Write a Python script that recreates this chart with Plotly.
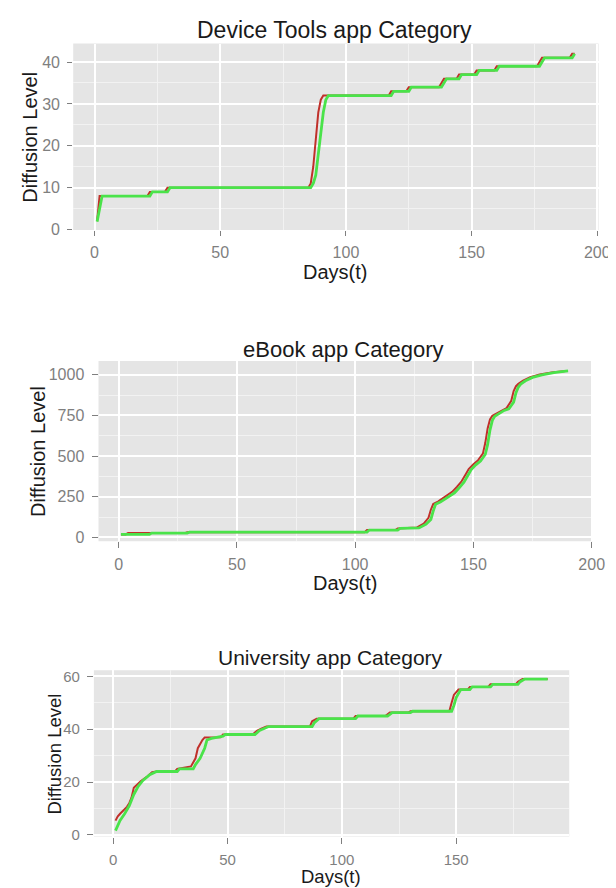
import plotly.graph_objects as go

# ---------------- data ----------------
# Panel 1: Device Tools app Category
dev_days_actual = [1, 2, 21, 22, 28, 29, 85, 86, 87, 88, 89, 90, 91, 117, 118, 124, 125, 137, 138, 139,
                   144, 145, 151, 152, 159, 160, 176, 177, 178, 189, 190, 191]
dev_level_actual = [2, 8, 8, 9, 9, 10, 10, 11, 15, 22, 28, 31, 32, 32, 33, 33, 34, 34, 35, 36,
                    36, 37, 37, 38, 38, 39, 39, 40, 41, 41, 42, 42]
dev_days_fit = [1, 2, 3, 22, 23, 29, 30, 86, 87, 88, 89, 90, 91, 92, 93, 118, 119, 125, 126, 138, 139, 140,
                145, 146, 152, 153, 160, 161, 177, 178, 179, 190, 191]
dev_level_fit = [1.9, 5, 8, 8, 9, 9, 10, 10, 11, 13, 18, 24, 28, 31, 32, 32, 33, 33, 34, 34, 35, 36,
                 36, 37, 37, 38, 38, 39, 39, 40, 41, 41, 42]

# Panel 2: eBook app Category
ebook_days_actual = [1, 3, 4, 28, 29, 104, 105, 117, 118, 126, 129, 131, 132, 133, 135, 138, 141, 143,
                     145, 147, 148, 150, 152, 154, 155, 156, 157, 158, 160, 162, 164, 166, 167, 168, 169,
                     171, 174, 178, 183, 189, 190]
ebook_level_actual = [18, 18, 26, 26, 32, 32, 45, 45, 55, 60, 85, 120, 170, 205, 220, 248, 280, 310,
                      345, 395, 420, 450, 475, 515, 580, 670, 725, 748, 763, 783, 795, 840, 900, 930, 945,
                      965, 986, 1002, 1015, 1024, 1024]
ebook_days_fit = [1, 13, 14, 29, 30, 105, 106, 118, 119, 127, 130, 132, 133, 134, 136, 139, 142, 144, 146, 148,
                  149, 151, 153, 155, 156, 157, 158, 159, 161, 163, 165, 167, 168, 169, 170, 172, 175,
                  179, 184, 190]
ebook_level_fit = [18, 18, 26, 26, 32, 32, 45, 45, 55, 58, 81, 110, 162, 203, 217, 243, 274, 305, 340, 390,
                   416, 446, 470, 510, 570, 660, 720, 745, 761, 781, 791, 832, 890, 925, 943, 963, 984,
                   1000, 1014, 1024]

# Panel 3: University app Category
uni_days_actual = [1, 2, 3, 5, 6, 7, 8, 9, 12, 15, 17, 19, 27, 28, 34, 36, 37, 39, 40, 47, 48, 61, 63, 65, 67,
                   86, 87, 89, 105, 106, 119, 121, 129, 130, 147, 148, 149, 151, 155, 156, 164, 165, 176,
                   177, 179, 190]
uni_level_actual = [5.4, 7, 8, 9.5, 10.6, 12, 14.1, 17.8, 20.3, 22.2, 23.7, 24, 24, 25, 25.9, 29, 32.8, 35.9,
                    36.9, 37, 38, 38, 39.5, 40.3, 41, 41, 43, 44, 44, 45, 45, 46.3, 46.3, 46.8, 46.8, 50,
                    53, 55, 55, 56, 56, 57, 57, 58, 59, 59]
uni_days_fit = [1, 3, 5, 7, 9, 11, 13, 16, 19, 28, 29, 35, 36, 38, 40, 41, 43, 48, 49, 62, 64, 66, 68, 87, 88,
                90, 106, 107, 120, 122, 130, 131, 148, 149, 150, 152, 156, 157, 165, 166, 177, 178, 180, 190]
uni_level_fit = [1.6, 5.5, 8, 11, 15.3, 18.5, 20.6, 22.8, 24, 24, 25, 25, 26.6, 29, 32.8, 35.9, 36.5, 37.4,
                 38, 38, 39.5, 40.3, 41, 41, 42.5, 44, 44, 45, 45, 46.3, 46.3, 46.8, 46.8, 49, 52, 55, 55,
                 56, 56, 57, 57, 58, 59, 59]

titles = ["Device Tools app Category", "eBook app Category", "University app Category"]
x_ticks = [0, 50, 100, 150, 200]
y_ticks = [[0, 10, 20, 30, 40], [0, 250, 500, 750, 1000], [0, 20, 40, 60]]

# ---------------- layout geometry (pixels) ----------------
W, H = 616, 888
FONT = "Liberation Sans, Arial, sans-serif"
RED = "#C0302A"
GREEN = "#4AE34A"
BG = "#E5E5E5"
MINOR = "#F2F2F2"
GREY = "#7F7F7F"

panels = [
    dict(days_a=dev_days_actual, lev_a=dev_level_actual, days_f=dev_days_fit, lev_f=dev_level_fit,
         px=(66.5, 602.3), py=(34, 222.5), xr=[-8.5, 200.5], yr=[-0.1, 44.4], ydt=10, ytl=y_ticks[0],
         tsize=23, tpos=(333, 20), asize=20, ylab=(21.6, 129), xlab=(333, 265), ticksize=16, ticklen=5),
    dict(days_a=ebook_days_actual, lev_a=ebook_level_actual, days_f=ebook_days_fit, lev_f=ebook_level_fit,
         px=(92.3, 596.5), py=(355, 537.3), xr=[-8.5, 200.5], yr=[-24, 1085], ydt=250, ytl=y_ticks[1],
         tsize=22, tpos=(342, 343), asize=20, ylab=(30.6, 447), xlab=(344, 580), ticksize=16, ticklen=6),
    dict(days_a=uni_days_actual, lev_a=uni_level_actual, days_f=uni_days_fit, lev_f=uni_level_fit,
         px=(87.6, 572.4), py=(667.7, 836), xr=[-8.45, 199.45], yr=[-0.65, 62.35], ydt=20, ytl=y_ticks[2],
         tsize=21, tpos=(329, 655), asize=18.5, ylab=(46.5, 752.5), xlab=(329.5, 876), ticksize=15, ticklen=6),
]

fig = go.Figure()
annotations = []
shapes = []
layout = dict(width=W, height=H, autosize=False, margin=dict(l=0, r=0, t=0, b=0),
              paper_bgcolor="white", plot_bgcolor="rgba(0,0,0,0)", showlegend=False,
              font=dict(family=FONT))

for i, p in enumerate(panels, start=1):
    xa = "x" if i == 1 else f"x{i}"
    ya = "y" if i == 1 else f"y{i}"
    fig.add_trace(go.Scatter(x=p["days_a"], y=p["lev_a"], mode="lines", xaxis=xa, yaxis=ya,
                             line=dict(color=RED, width=2.0), hoverinfo="skip"))
    fig.add_trace(go.Scatter(x=p["days_f"], y=p["lev_f"], mode="lines", xaxis=xa, yaxis=ya,
                             line=dict(color=GREEN, width=2.8), hoverinfo="skip"))
    x0, x1 = p["px"]
    y0, y1 = p["py"]
    xkey = "xaxis" if i == 1 else f"xaxis{i}"
    ykey = "yaxis" if i == 1 else f"yaxis{i}"
    layout[xkey] = dict(domain=[x0 / W, x1 / W], anchor=ya, range=p["xr"], tickvals=x_ticks,
                        showgrid=True, gridcolor="white", gridwidth=1.8, zeroline=False,
                        ticks="outside", ticklen=p["ticklen"], tickcolor=GREY, tickwidth=1.2,
                        ticklabelstandoff=3,
                        tickfont=dict(size=p["ticksize"], color=GREY, family=FONT),
                        showline=False, fixedrange=True,
                        minor=dict(dtick=25, tick0=0, showgrid=True, gridcolor=MINOR, gridwidth=0.9))
    layout[ykey] = dict(domain=[1 - y1 / H, 1 - y0 / H], anchor=xa, range=p["yr"], tickvals=p["ytl"],
                        showgrid=True, gridcolor="white", gridwidth=1.8, zeroline=False,
                        ticks="outside", ticklen=p["ticklen"], tickcolor=GREY, tickwidth=1.2,
                        ticklabelstandoff=4,
                        tickfont=dict(size=p["ticksize"], color=GREY, family=FONT),
                        showline=False, fixedrange=True,
                        minor=dict(dtick=p["ydt"] / 2, tick0=0, showgrid=True, gridcolor=MINOR, gridwidth=0.9))
    shapes.append(dict(type="rect", xref="paper", yref="paper", x0=x0 / W, x1=x1 / W,
                       y0=1 - y1 / H, y1=1 - y0 / H, fillcolor=BG, line=dict(width=0), layer="below"))
    annotations.append(dict(text=titles[i - 1], x=p["tpos"][0] / W, y=1 - p["tpos"][1] / H,
                            xref="paper", yref="paper", showarrow=False, xanchor="center", yanchor="middle",
                            font=dict(size=p["tsize"], color="#1A1A1A", family=FONT)))
    annotations.append(dict(text="Diffusion Level", x=p["ylab"][0] / W, y=1 - p["ylab"][1] / H,
                            xref="paper", yref="paper", showarrow=False, textangle=-90,
                            xanchor="center", yanchor="middle",
                            font=dict(size=p["asize"], color="#1A1A1A", family=FONT)))
    annotations.append(dict(text="Days(t)", x=p["xlab"][0] / W, y=1 - p["xlab"][1] / H,
                            xref="paper", yref="paper", showarrow=False, xanchor="center", yanchor="middle",
                            font=dict(size=p["asize"], color="#1A1A1A", family=FONT)))

layout["annotations"] = annotations
layout["shapes"] = shapes
fig.update_layout(**layout)
fig.write_html("out.html")
